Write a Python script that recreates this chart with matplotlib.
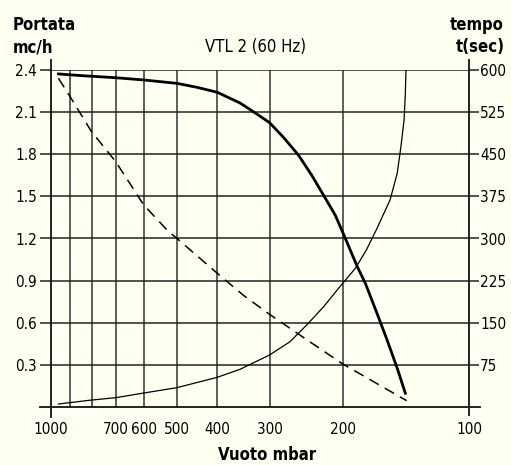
import matplotlib.pyplot as plt

# portata (mc/h) - curva spessa
p_portata = [960, 837, 700, 600, 500, 448, 400, 353, 328, 300, 278, 256, 238, 223, 209, 200, 185, 177, 166, 157, 148.5, 142]
v_portata = [2.372, 2.359, 2.345, 2.329, 2.305, 2.277, 2.241, 2.165, 2.103, 2.025, 1.921, 1.795, 1.652, 1.51, 1.367, 1.237, 0.999, 0.881, 0.667, 0.477, 0.276, 0.098]

# curva tratteggiata (portata)
p_tratt = [960, 900, 800, 700, 600, 528, 500, 400, 347, 300, 254, 201.6, 141]
v_tratt = [2.341, 2.21, 1.961, 1.747, 1.439, 1.261, 1.201, 0.952, 0.797, 0.66, 0.513, 0.311, 0.045]

# tempo (sec) - curva sottile
p_tempo = [960, 811, 700, 600, 500, 400, 353, 300, 268, 244.5, 223, 203.5, 187, 176, 166, 154.5, 148.5, 145.5, 143, 142, 141.5]
t_tempo = [5.3, 11.9, 16.6, 24.9, 34.4, 52.9, 67.1, 92.6, 116.3, 146, 178.1, 214.5, 247, 279.6, 318, 368.5, 416, 463.4, 511, 558.5, 600]

x_grid = [900, 800, 700, 600, 500, 400, 300, 200]
x_ticks = [1000, 700, 600, 500, 400, 300, 200, 100]
y_ticks = [0.3, 0.6, 0.9, 1.2, 1.5, 1.8, 2.1, 2.4]
y_labels = ['0.3', '0.6', '0.9', '1.2', '1.5', '1.8', '2.1', '2.4']
t_ticks = [75, 150, 225, 300, 375, 450, 525, 600]

bg = '#fffff2'
plt.rcParams['font.family'] = ['DejaVu Sans']
plt.rcParams['font.stretch'] = 'condensed'

W, H = 511, 465
fig = plt.figure(figsize=(W / 100, H / 100), dpi=100, facecolor=bg)
ax = fig.add_axes([51 / W, 58 / H, 418 / W, 337 / H], facecolor=bg)
ax.set_xscale('log')
ax.set_xlim(1000, 100)
ax.set_ylim(0, 2.4)

for s in ax.spines.values():
    s.set_visible(False)

for xv in x_grid:
    ax.axvline(xv, color='#333333', lw=1.1, zorder=1)
for yv in y_ticks:
    ax.axhline(yv, color='#222222', lw=1.1, zorder=1)

# assi prolungati
ax.plot([0, 0], [-10 / 337, 1 + 10 / 337], color='#111111', lw=1.3, transform=ax.transAxes, clip_on=False)
ax.plot([1, 1], [-8 / 337, 1 + 10 / 337], color='#111111', lw=1.3, transform=ax.transAxes, clip_on=False)
ax.plot([-11 / 418, 1 + 11 / 418], [0, 0], color='#111111', lw=1.3, transform=ax.transAxes, clip_on=False)

ax.set_xticks(x_ticks)
ax.set_xticklabels([str(v) for v in x_ticks])
ax.xaxis.set_minor_locator(plt.NullLocator())
ax.tick_params(axis='x', length=0, pad=11, labelsize=11)
ax.set_yticks(y_ticks)
ax.set_yticklabels(y_labels)
ax.tick_params(axis='y', length=8, width=1.1, color='#222222', pad=2, labelsize=11)

ax.plot(p_portata, v_portata, color='black', lw=2.0, zorder=3)
ax.plot(p_tratt, v_tratt, color='black', lw=1.1, dashes=(7, 4.5), zorder=3)

ax2 = ax.twinx()
ax2.set_ylim(0, 600)
for s in ax2.spines.values():
    s.set_visible(False)
ax2.set_yticks(t_ticks)
ax2.tick_params(axis='y', length=7, width=1.1, color='#222222', pad=1, labelsize=11)
ax2.plot(p_tempo, t_tempo, color='black', lw=0.9, zorder=3)

fig.text(13 / W, 1 - 25 / H, 'Portata', fontsize=12, fontweight='bold', va='center', ha='left')
fig.text(13 / W, 1 - 47 / H, 'mc/h', fontsize=12, fontweight='bold', va='center', ha='left')
fig.text(256 / W, 1 - 47 / H, 'VTL 2 (60 Hz)', fontsize=12, va='center', ha='center')
fig.text(504 / W, 1 - 25 / H, 'tempo', fontsize=12, fontweight='bold', va='center', ha='right')
fig.text(505 / W, 1 - 47 / H, 't(sec)', fontsize=12, fontweight='bold', va='center', ha='right')
fig.text(267 / W, 1 - 455 / H, 'Vuoto mbar', fontsize=12, fontweight='bold', va='center', ha='center')

fig.savefig('out.png', dpi=100, facecolor=bg)
